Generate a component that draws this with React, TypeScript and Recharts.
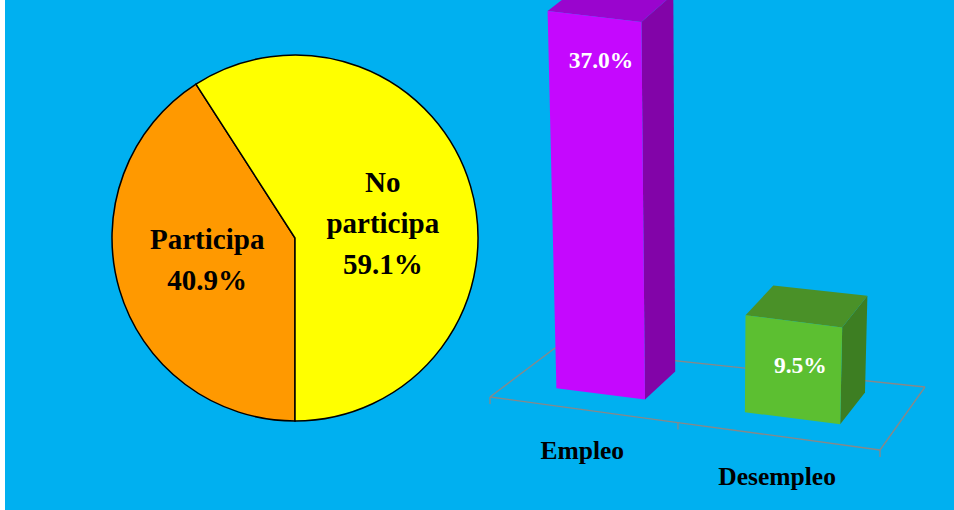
import React from 'react';
import { PieChart, Pie, Cell, BarChart, Bar, XAxis, YAxis, LabelList } from 'recharts';

// pie data
const pieNames = ['Participa', 'No participa'];
const pieValues = [40.9, 59.1];
const pieColors = ['#FF9900', '#FFFF00'];

// bar data
const barNames = ['Empleo', 'Desempleo'];
const barValues = [37.0, 9.5];
const barFront = ['#C508FE', '#5CBF31'];
const barSide = ['#8204A8', '#3D7E22'];
const barTop = ['#9A05CE', '#4A9128'];

const pieData = pieNames.map((name, i) => ({ name, value: pieValues[i] }));
const barData = barNames.map((name, i) => ({ name, value: barValues[i] }));

const BG = '#00B0F0';
const FONT = "'Liberation Serif', 'Times New Roman', serif";

// bar panel layout (local coords of the bar chart svg)
const BAR_LEFT = 480;
const BW = 474;
const BH = 510;
const M = { top: 10, right: 20, bottom: 62, left: 20 };
const PL = M.left;
const PW = BW - M.left - M.right;

// floor of the 3d plot, seen in perspective
const FL = { x: 10, y: 397 };
const FR = { x: 400, y: 450 };
const BR = { x: 445, y: 387 };
const BK = { x: 75, y: 348 };
const V_FRONT = 0.3;
const V_BACK = 0.82;

type Pt = { x: number; y: number };
const lerp = (a: Pt, b: Pt, t: number): Pt => ({ x: a.x + (b.x - a.x) * t, y: a.y + (b.y - a.y) * t });
const warp = (u: number) => u / (u + 1.075 * (1 - u));
const floorPt = (u: number, v: number) => lerp(lerp(FL, BK, v), lerp(FR, BR, v), warp(u));
const raise = (p: Pt, h: number): Pt => ({ x: p.x + ((p.x + BAR_LEFT - 707) / 6500) * h, y: p.y - h });
const toU = (x: number) => (x - PL) / PW;
const poly = (pts: Pt[]) => pts.map((p) => `${p.x.toFixed(1)},${p.y.toFixed(1)}`).join(' ');
const catIndex = (x: number, w: number) =>
  Math.min(barData.length - 1, Math.max(0, Math.floor(toU(x + w / 2) * barData.length)));

const boxCorners = (x: number, width: number, height: number) => {
  const u0 = toU(x);
  const u1 = toU(x + width);
  const b = [floorPt(u0, V_FRONT), floorPt(u1, V_FRONT), floorPt(u1, V_BACK), floorPt(u0, V_BACK)];
  const t = b.map((p) => raise(p, height));
  return { b, t };
};

const Box3D = (props: any) => {
  const { x, width, height } = props;
  const i = catIndex(x, width);
  const { b, t } = boxCorners(x, width, height);
  return (
    <g>
      <polygon points={poly([b[1], b[2], t[2], t[1]])} fill={barSide[i]} />
      <polygon points={poly([t[0], t[1], t[2], t[3]])} fill={barTop[i]} />
      <polygon points={poly([b[0], b[1], t[1], t[0]])} fill={barFront[i]} />
    </g>
  );
};

const BoxLabel = (props: any) => {
  const { x, width, height, value } = props;
  const { t } = boxCorners(Number(x), Number(width), Number(height));
  const mx = (t[0].x + t[1].x) / 2 + 6.5;
  const my = (t[0].y + t[1].y) / 2 + 52;
  return (
    <text x={mx} y={my} textAnchor="middle" fill="#fff" fontSize={23.5} fontWeight="bold" fontFamily={FONT}>
      {Number(value).toFixed(1)}%
    </text>
  );
};

// floor lines drawn per category as the bar background
const FloorPart = (props: any) => {
  const { x, width } = props;
  const n = barData.length;
  const i = catIndex(x, width);
  const ua = i / n;
  const ub = (i + 1) / n;
  const segs: Pt[][] = [
    [floorPt(ua, 0), floorPt(ub, 0)],
    [floorPt(ua, 1), floorPt(ub, 1)],
  ];
  const ticks: Pt[] = [floorPt(ua, 0)];
  if (i === 0) segs.push([floorPt(0, 0), floorPt(0, 1)]);
  if (i === n - 1) {
    segs.push([floorPt(1, 0), floorPt(1, 1)]);
    ticks.push(floorPt(1, 0));
  }
  return (
    <g stroke="#888888" strokeWidth={1.3} fill="none">
      {segs.map((s, k) => (
        <line key={k} x1={s[0].x} y1={s[0].y} x2={s[1].x} y2={s[1].y} />
      ))}
      {ticks.map((p, k) => (
        <line key={'t' + k} x1={p.x} y1={p.y} x2={p.x} y2={p.y + 7} />
      ))}
    </g>
  );
};

const CatTick = (props: any) => {
  const { x, payload } = props;
  const p = floorPt(toU(x), 0);
  return (
    <text x={p.x} y={p.y + 49} textAnchor="middle" fill="#000" fontSize={25.5} fontWeight="bold" fontFamily={FONT}>
      {payload.value}
    </text>
  );
};

const PieLabel = (props: any) => {
  const { cx, cy, midAngle, outerRadius, name, value } = props;
  const RAD = Math.PI / 180;
  const r = outerRadius * 0.5;
  const x = cx + r * Math.cos(-midAngle * RAD);
  const y = cy + 0.7 * r * Math.sin(-midAngle * RAD) + 3;
  const lines = [...String(name).split(' '), `${Number(value).toFixed(1)}%`];
  const lh = 41;
  return (
    <text textAnchor="middle" fill="#000" fontSize={29} fontWeight="bold" fontFamily={FONT}>
      {lines.map((l, i) => (
        <tspan key={i} x={x} y={y + (i - (lines.length - 1) / 2) * lh + 10}>
          {l}
        </tspan>
      ))}
    </text>
  );
};

export default function App() {
  return (
    <div style={{ position: 'fixed', left: 0, top: 0, width: 954, height: 510, background: '#fff', overflow: 'hidden' }}>
      <div style={{ position: 'absolute', left: 5, top: 0, width: 949, height: 510, background: BG }} />
      <div style={{ position: 'absolute', left: 0, top: 0 }}>
        <PieChart width={480} height={510} margin={{ top: 0, right: 0, bottom: 0, left: 0 }}>
          <Pie
            data={pieData}
            dataKey="value"
            nameKey="name"
            cx={295}
            cy={238}
            outerRadius={183}
            startAngle={-90}
            endAngle={-450}
            stroke="#000"
            strokeWidth={1.5}
            label={PieLabel}
            labelLine={false}
            isAnimationActive={false}
          >
            {pieData.map((d, i) => (
              <Cell key={d.name} fill={pieColors[i]} />
            ))}
          </Pie>
        </PieChart>
      </div>
      <div style={{ position: 'absolute', left: BAR_LEFT, top: 0 }}>
        <BarChart width={BW} height={BH} data={barData} margin={M} barCategoryGap="26%">
          <XAxis dataKey="name" axisLine={false} tickLine={false} tick={CatTick} interval={0} height={30} />
          <YAxis hide domain={[0, 40]} />
          <Bar dataKey="value" shape={Box3D} background={FloorPart} isAnimationActive={false}>
            <LabelList dataKey="value" content={BoxLabel} />
          </Bar>
        </BarChart>
      </div>
    </div>
  );
}
